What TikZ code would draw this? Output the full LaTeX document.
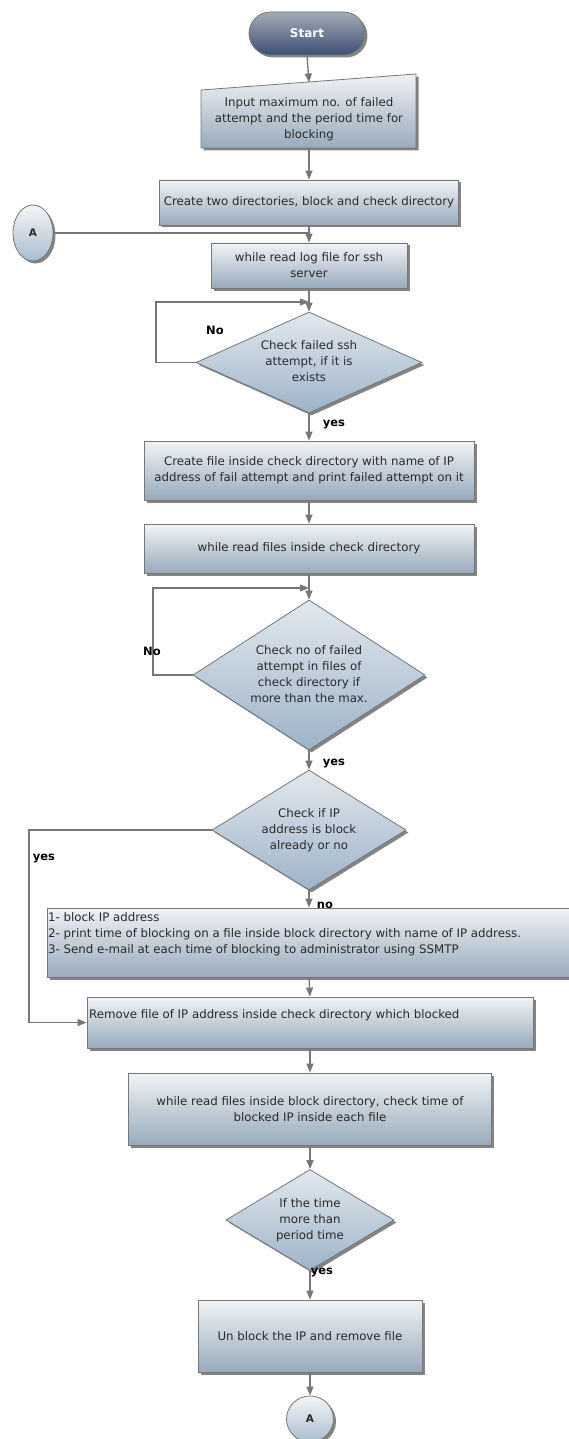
\documentclass[tikz,border=0pt]{standalone}
\usepackage{fontspec}
\setmainfont{DejaVu Sans}
\usetikzlibrary{shapes.geometric,shapes.misc,shadows,arrows.meta}
\definecolor{linegray}{HTML}{777777}
\definecolor{boxtop}{HTML}{F0F3F6}
\definecolor{boxbot}{HTML}{98AABB}
\definecolor{dtop}{HTML}{E2E8EE}
\definecolor{dbot}{HTML}{9DB3C8}
\definecolor{txt}{HTML}{2A2A2A}
\definecolor{starttop}{HTML}{A3ABB5}
\definecolor{startbot}{HTML}{3E4F76}
\definecolor{ctop}{HTML}{F4F6F8}
\definecolor{cbot}{HTML}{A9BCCD}
\begin{document}
\begin{tikzpicture}[x=1pt,y=-1pt,
  font=\fontsize{11.8}{16}\selectfont,
  shad/.style={drop shadow={shadow xshift=2.5pt,shadow yshift=-2.5pt,opacity=0.6,fill=black!80}},
  box/.style={draw=linegray, line width=0.8pt, top color=boxtop, bottom color=boxbot, shad, inner sep=0pt, text=txt, align=center},
  dia/.style={diamond, draw=linegray, line width=0.8pt, top color=dtop, bottom color=dbot, shad, inner sep=0pt},
  term/.style={rounded rectangle, draw=linegray, line width=0.8pt, top color=starttop, bottom color=startbot, shad, inner sep=0pt, text=white, font=\bfseries\fontsize{12}{14}\selectfont},
  conn/.style={ellipse, draw=linegray, line width=0.8pt, top color=ctop, bottom color=cbot, shad, inner sep=0pt, text=txt, font=\bfseries\fontsize{10.5}{12}\selectfont},
  txtnode/.style={text=txt, align=center, inner sep=0pt},
  arr/.style={draw=linegray, line width=1.3pt, -{Triangle[length=9pt,width=7pt]}},
  ln/.style={draw=linegray, line width=1.3pt},
  lbl/.style={font=\bfseries\fontsize{11.5}{13}\selectfont, text=black, inner sep=0pt}
]
\useasboundingbox[fill=white] (0,0) rectangle (569,1439);

% nodes
\node[term, minimum width=116pt, minimum height=43pt] (start) at (307,33.5) {Start};

\path[box] (201,90) -- (416,74) -- (416,148) -- (201,148) -- cycle;
\coordinate (inTop) at (309,82.5);
\coordinate (inBot) at (309,148);
\node[txtnode] (input) at (309,119) {Input maximum no. of failed\\attempt and the period time for\\blocking};

\node[box, minimum width=299pt, minimum height=45pt] (create) at (309,202.5) {Create two directories, block and check directory};

\node[conn, minimum width=40pt, minimum height=56pt] (A1) at (33,233) {A};

\node[box, minimum width=196pt, minimum height=45pt] (while1) at (309,265.5) {while read log file for ssh\\server};

\node[dia, minimum width=226pt, minimum height=101pt] (d1) at (309,362.5) {};
\node[txtnode] (d1t) at (309,361) {Check failed ssh\\attempt, if it is\\exists};

\node[box, minimum width=330pt, minimum height=59pt] (cfile) at (309,470.5) {Create file inside check directory with name of IP\\address of fail attempt and print failed attempt on it};

\node[box, minimum width=330pt, minimum height=49pt] (wfiles) at (309,548.5) {while read files inside check directory};

\node[dia, minimum width=232pt, minimum height=150pt] (d2) at (309,675) {};
\node[txtnode] (d2t) at (309,674) {Check no of failed\\attempt in files of\\check directory if\\more than the max.};

\node[dia, minimum width=194pt, minimum height=120pt] (d3) at (309,830) {};
\node[txtnode] (d3t) at (309,830) {Check if IP\\address is block\\already or no};

\node[box, minimum width=530pt, minimum height=69pt] (block) at (312,942.5) {};
\node[txtnode, align=left, anchor=west] (blockt) at (48,934) {1- block IP address\\2- print time of blocking on a file inside block directory with name of IP address.\\3- Send e-mail at each time of blocking to administrator using SSMTP};

\node[box, minimum width=446pt, minimum height=51pt] (remove) at (310,1022.5) {};
\node[txtnode, anchor=west] (removet) at (89,1015) {Remove file of IP address inside check directory which blocked};

\node[box, minimum width=363pt, minimum height=72pt] (wblock) at (310,1109) {while read files inside block directory, check time of\\blocked IP inside each file};

\node[dia, minimum width=168pt, minimum height=101pt] (d4) at (310,1220) {};
\node[txtnode] (d4t) at (310,1220) {If the time\\more than\\period time};

\node[box, minimum width=224pt, minimum height=72pt] (unblock) at (310,1336) {Un block the IP and remove file};

\node[conn, minimum width=47pt, minimum height=46pt] (A2) at (310,1419) {A};

% connectors
\draw[arr] (start.south) -- (inTop);
\draw[arr] (inBot) -- (create.north);
\draw[arr] (create.south) -- (while1.north);
\coordinate (joinA) at (309,233);
\draw[ln] (A1.east) -- (joinA);
\draw[arr] (while1.south) -- (d1.north);
\coordinate (loop1L) at (156,302);
\coordinate (loop1R) at (309,302);
\draw[arr] (d1.west) -| (loop1L) -- (loop1R);
\node[lbl] (no1) at (215,330) {No};
\draw[arr] (d1.south) -- (cfile.north);
\node[lbl] (yes1) at (334,425) {yes};
\draw[arr] (cfile.south) -- (wfiles.north);
\draw[arr] (wfiles.south) -- (d2.north);
\coordinate (loop2L) at (153,588);
\coordinate (loop2R) at (309,588);
\draw[arr] (d2.west) -| (loop2L) -- (loop2R);
\node[lbl] (no2) at (152,651) {No};
\draw[arr] (d2.south) -- (d3.north);
\node[lbl] (yes2) at (334,764) {yes};
\draw[arr] (d3.south) -- (d3.south |- block.north);
\node[lbl] (no3) at (325,905) {no};
\coordinate (yesL) at (29,1022.5);
\draw[arr] (d3.west) -| (yesL) -- (remove.west);
\node[lbl] (yes3) at (44,859) {yes};
\draw[arr] (d3.south |- block.south) -- (remove.north);
\draw[arr] (remove.south) -- (wblock.north);
\draw[arr] (wblock.south) -- (d4.north);
\draw[arr] (d4.south) -- (unblock.north);
\node[lbl] (yes4) at (322,1273) {yes};
\draw[arr] (unblock.south) -- (A2.north);
\end{tikzpicture}
\end{document}
